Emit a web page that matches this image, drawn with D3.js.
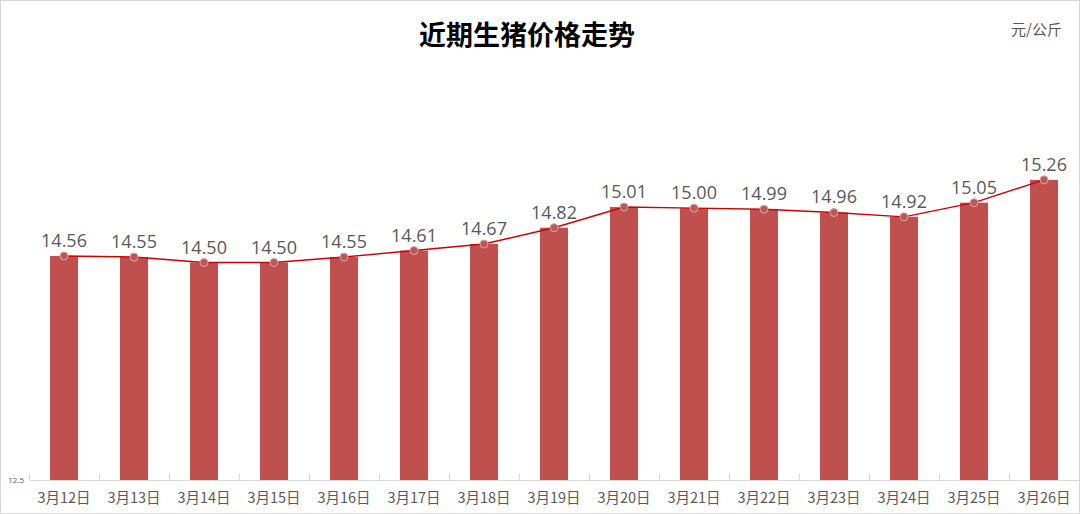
<!DOCTYPE html>
<html>
<head>
<meta charset="utf-8">
<script src="https://cdn.jsdelivr.net/npm/d3@7"></script>
<style>
  html, body { margin: 0; padding: 0; background: #fff; }
  svg { display: block; }
</style>
</head>
<body>
<svg id="chart" width="1080" height="514"></svg>
<script>
const title = "近期生猪价格走势";
const unit = "元/公斤";
const categories = ["3月12日","3月13日","3月14日","3月15日","3月16日","3月17日","3月18日","3月19日","3月20日","3月21日","3月22日","3月23日","3月24日","3月25日","3月26日"];
const prices = [14.56,14.55,14.50,14.50,14.55,14.61,14.67,14.82,15.01,15.00,14.99,14.96,14.92,15.05,15.26];
const yDomain = [12.5, 16.5];
const yTickLabels = [12.5];

const W = 1080, H = 514;
const svg = d3.select("#chart");
const font = "'Noto Sans CJK SC','Noto Sans',sans-serif";
const labelFont = "'Open Sans','Liberation Sans','Noto Sans',sans-serif";

// outer border
svg.append("rect").attr("x",0.5).attr("y",0.5).attr("width",W-1).attr("height",H-1)
  .attr("fill","#fff").attr("stroke","#d9d9d9").attr("stroke-width",1);

const plot = {left: 29, right: 1079, top: 45, bottom: 480};

const xb = d3.scaleBand().domain(categories).range([plot.left, plot.right]);
const y = d3.scaleLinear().domain(yDomain).range([plot.bottom, plot.top]);
const cx = c => xb(c) + xb.bandwidth()/2;

// bars
svg.append("g").selectAll("rect").data(prices).join("rect")
  .attr("x", (d,i) => cx(categories[i]) - 14)
  .attr("width", 28)
  .attr("y", d => y(d))
  .attr("height", d => y(yDomain[0]) - y(d))
  .attr("fill", "#c0504d");

// x axis baseline + ticks
const gx = svg.append("g").attr("transform", `translate(0,${plot.bottom})`)
  .call(d3.axisBottom(xb).tickSize(0).tickFormat(""));
gx.select(".domain").attr("stroke","#d9d9d9").attr("stroke-width",1);
const bounds = categories.map(c => xb(c)).concat([plot.right]);
gx.selectAll("line.bt").data(bounds).join("line").attr("class","bt")
  .attr("x1", d => Math.round(d)+0.5).attr("x2", d => Math.round(d)+0.5)
  .attr("y1", -6).attr("y2", 0).attr("stroke","#d9d9d9");

// x labels
svg.append("g").selectAll("text").data(categories).join("text")
  .attr("x", c => cx(c))
  .attr("y", 503)
  .attr("text-anchor","middle")
  .attr("font-family", font)
  .attr("font-size", 14.5)
  .attr("fill", "#595959")
  .text(c => c);

// y tick label
svg.append("g").selectAll("text").data(yTickLabels).join("text")
  .attr("x", 24).attr("y", d => y(d) + 3)
  .attr("text-anchor","end")
  .attr("font-family", labelFont)
  .attr("font-size", 8)
  .attr("fill", "#595959")
  .text(d => d);

// line
const line = d3.line()
  .x((d,i) => cx(categories[i]))
  .y(d => y(d))
  .curve(d3.curveLinear);
svg.append("path").datum(prices).attr("d", line)
  .attr("fill","none").attr("stroke","#d00000").attr("stroke-width",1.4);

// markers
svg.append("g").selectAll("circle").data(prices).join("circle")
  .attr("cx", (d,i) => cx(categories[i]))
  .attr("cy", d => y(d))
  .attr("r", 4)
  .attr("fill", "#b35a5c")
  .attr("stroke", "#e3a3a3")
  .attr("stroke-width", 1);

// data labels
svg.append("g").selectAll("text").data(prices).join("text")
  .attr("x", (d,i) => cx(categories[i]))
  .attr("y", d => y(d) - 9)
  .attr("text-anchor","middle")
  .attr("font-family", labelFont)
  .attr("font-size", 18)
  .attr("fill", "#595959")
  .text(d => d.toFixed(2));

// title
svg.append("text").attr("x", 527).attr("y", 45)
  .attr("text-anchor","middle")
  .attr("font-family", font)
  .attr("font-weight","bold")
  .attr("font-size", 27)
  .attr("fill", "#000")
  .text(title);

// unit
svg.append("text").attr("x", 1062).attr("y", 35)
  .attr("text-anchor","end")
  .attr("font-family", font)
  .attr("font-size", 15)
  .attr("fill", "#595959")
  .text(unit);
</script>
</body>
</html>
